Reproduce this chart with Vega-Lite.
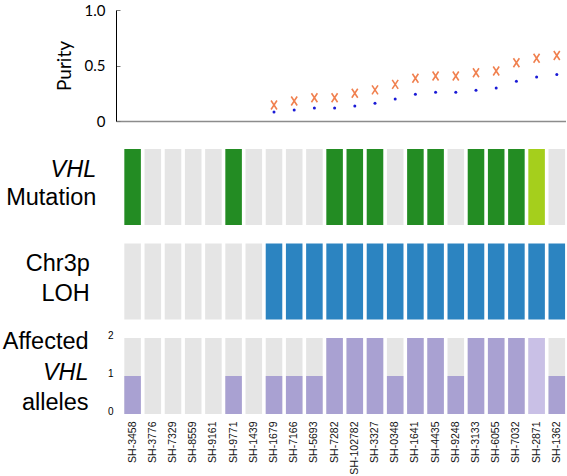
{
  "$schema": "https://vega.github.io/schema/vega-lite/v6.json",
  "background": "white",
  "padding": {"left": 2, "top": 3, "right": 0, "bottom": 0},
  "config": {"view": {"stroke": null}},
  "datasets": {
    "samples": [
      {"sample": "SH-3458", "mutation": "mutant", "loh": "none", "alleles": 1, "allele_shade": "standard", "purity_x": null, "purity_dot": null},
      {"sample": "SH-3776", "mutation": "none", "loh": "none", "alleles": 0, "allele_shade": "standard", "purity_x": null, "purity_dot": null},
      {"sample": "SH-7329", "mutation": "none", "loh": "none", "alleles": 0, "allele_shade": "standard", "purity_x": null, "purity_dot": null},
      {"sample": "SH-8559", "mutation": "none", "loh": "none", "alleles": 0, "allele_shade": "standard", "purity_x": null, "purity_dot": null},
      {"sample": "SH-9161", "mutation": "none", "loh": "none", "alleles": 0, "allele_shade": "standard", "purity_x": null, "purity_dot": null},
      {"sample": "SH-9771", "mutation": "mutant", "loh": "none", "alleles": 1, "allele_shade": "standard", "purity_x": null, "purity_dot": null},
      {"sample": "SH-1439", "mutation": "none", "loh": "none", "alleles": 0, "allele_shade": "standard", "purity_x": null, "purity_dot": null},
      {"sample": "SH-1679", "mutation": "none", "loh": "loh", "alleles": 1, "allele_shade": "standard", "purity_x": 0.144, "purity_dot": 0.081},
      {"sample": "SH-7166", "mutation": "none", "loh": "loh", "alleles": 1, "allele_shade": "standard", "purity_x": 0.18, "purity_dot": 0.099},
      {"sample": "SH-5693", "mutation": "none", "loh": "loh", "alleles": 1, "allele_shade": "standard", "purity_x": 0.21, "purity_dot": 0.117},
      {"sample": "SH-7282", "mutation": "mutant", "loh": "loh", "alleles": 2, "allele_shade": "standard", "purity_x": 0.21, "purity_dot": 0.117},
      {"sample": "SH-102782", "mutation": "mutant", "loh": "loh", "alleles": 2, "allele_shade": "standard", "purity_x": 0.25, "purity_dot": 0.135},
      {"sample": "SH-3327", "mutation": "mutant", "loh": "loh", "alleles": 2, "allele_shade": "standard", "purity_x": 0.28, "purity_dot": 0.159},
      {"sample": "SH-0348", "mutation": "none", "loh": "loh", "alleles": 1, "allele_shade": "standard", "purity_x": 0.33, "purity_dot": 0.198},
      {"sample": "SH-1641", "mutation": "mutant", "loh": "loh", "alleles": 2, "allele_shade": "standard", "purity_x": 0.385, "purity_dot": 0.24},
      {"sample": "SH-4435", "mutation": "mutant", "loh": "loh", "alleles": 2, "allele_shade": "standard", "purity_x": 0.405, "purity_dot": 0.258},
      {"sample": "SH-9248", "mutation": "none", "loh": "loh", "alleles": 1, "allele_shade": "standard", "purity_x": 0.405, "purity_dot": 0.258},
      {"sample": "SH-3133", "mutation": "mutant", "loh": "loh", "alleles": 2, "allele_shade": "standard", "purity_x": 0.435, "purity_dot": 0.276},
      {"sample": "SH-6055", "mutation": "mutant", "loh": "loh", "alleles": 2, "allele_shade": "standard", "purity_x": 0.45, "purity_dot": 0.297},
      {"sample": "SH-7032", "mutation": "mutant", "loh": "loh", "alleles": 2, "allele_shade": "standard", "purity_x": 0.525, "purity_dot": 0.357},
      {"sample": "SH-2871", "mutation": "other", "loh": "loh", "alleles": 2, "allele_shade": "light", "purity_x": 0.565, "purity_dot": 0.396},
      {"sample": "SH-1362", "mutation": "none", "loh": "loh", "alleles": 1, "allele_shade": "standard", "purity_x": 0.59, "purity_dot": 0.42}
    ],
    "labels": [
      {"row": "mutation", "line": 0, "label": "VHL", "italic": true},
      {"row": "mutation", "line": 1, "label": "Mutation", "italic": false},
      {"row": "loh", "line": 0, "label": "Chr3p", "italic": false},
      {"row": "loh", "line": 1, "label": "LOH", "italic": false},
      {"row": "alleles", "line": 0, "label": "Affected", "italic": false},
      {"row": "alleles", "line": 1, "label": "VHL", "italic": true},
      {"row": "alleles", "line": 2, "label": "alleles", "italic": false}
    ]
  },
  "data": {"name": "samples"},
  "spacing": 28,
  "bounds": "flush",
  "resolve": {"scale": {"x": "independent", "y": "independent", "color": "independent"}},
  "vconcat": [
    {
      "width": 450,
      "height": 111,
      "layer": [
        {
          "mark": {"type": "point", "shape": "M-0.66,-1L0.66,1M0.66,-1L-0.66,1", "filled": false, "strokeWidth": 1.6, "size": 81, "color": "#f0804f", "opacity": 1},
          "encoding": {
            "x": {"field": "sample", "type": "nominal", "sort": null,
              "scale": {"type": "band", "domain": ["SH-3458","SH-3776","SH-7329","SH-8559","SH-9161","SH-9771","SH-1439","SH-1679","SH-7166","SH-5693","SH-7282","SH-102782","SH-3327","SH-0348","SH-1641","SH-4435","SH-9248","SH-3133","SH-6055","SH-7032","SH-2871","SH-1362"], "paddingInner": 0.18, "paddingOuter": 0.229, "align": 0.9},
              "axis": {"labels": false, "ticks": false, "title": null, "grid": false, "domainColor": "#8c8c8c", "domainWidth": 1.5}},
            "y": {"field": "purity_x", "type": "quantitative", "scale": {"domain": [0, 1]},
              "axis": {"values": [0, 0.5, 1], "labelExpr": "datum.value == 0 ? '0' : format(datum.value, '.1f')", "grid": false, "domainColor": "#000000", "domainWidth": 1, "tickColor": "#777777", "tickSize": -4, "labelFont": "Lato", "labelFontSize": 15, "labelColor": "#000000", "labelPadding": 15, "title": "Purity", "titleFont": "Lato", "titleFontSize": 19, "titleFontWeight": "normal", "titleColor": "#000000", "titlePadding": 10}}
          }
        },
        {
          "mark": {"type": "point", "shape": "circle", "filled": true, "size": 9, "color": "#1a1ad6", "opacity": 1},
          "encoding": {
            "x": {"field": "sample", "type": "nominal", "sort": null},
            "y": {"field": "purity_dot", "type": "quantitative"}
          }
        }
      ]
    },
    {
      "spacing": 18.5,
      "bounds": "flush",
      "resolve": {"scale": {"x": "independent", "y": "independent", "color": "independent"}},
      "vconcat": [
        {
          "width": 450,
          "height": 76,
          "resolve": {"scale": {"x": "independent", "y": "independent"}, "axis": {"x": "independent", "y": "independent"}},
          "layer": [
            {
              "mark": {"type": "rect"},
              "encoding": {
                "x": {"field": "sample", "type": "nominal", "sort": null,
                  "scale": {"type": "band", "domain": ["SH-3458","SH-3776","SH-7329","SH-8559","SH-9161","SH-9771","SH-1439","SH-1679","SH-7166","SH-5693","SH-7282","SH-102782","SH-3327","SH-0348","SH-1641","SH-4435","SH-9248","SH-3133","SH-6055","SH-7032","SH-2871","SH-1362"], "paddingInner": 0.18, "paddingOuter": 0.229, "align": 0.9},
                  "axis": null},
                "color": {"field": "mutation", "type": "nominal", "scale": {"domain": ["none", "mutant", "other"], "range": ["#e5e5e5", "#238c23", "#a5cf1c"]}, "legend": null}
              }
            },
            {
              "data": {"name": "labels"},
              "transform": [{"filter": "datum.row == 'mutation' && datum.italic"}],
              "mark": {"type": "text", "align": "right", "baseline": "alphabetic", "font": "Liberation Sans", "fontSize": 23.5, "fontStyle": "italic", "color": "#000000"},
              "encoding": {
                "text": {"field": "label", "type": "nominal"},
                "x": {"datum": -0.0438, "type": "quantitative", "scale": {"domain": [0, 1]}, "axis": null},
                "y": {"datum": 0.638, "type": "quantitative", "scale": {"domain": [0, 1]}, "axis": null}
              }
            },
            {
              "data": {"name": "labels"},
              "transform": [{"filter": "datum.row == 'mutation' && !datum.italic"}],
              "mark": {"type": "text", "align": "right", "baseline": "alphabetic", "font": "Liberation Sans", "fontSize": 23.5, "color": "#000000"},
              "encoding": {
                "text": {"field": "label", "type": "nominal"},
                "x": {"datum": -0.0438, "type": "quantitative", "scale": {"domain": [0, 1]}, "axis": null},
                "y": {"datum": 0.257, "type": "quantitative", "scale": {"domain": [0, 1]}, "axis": null}
              }
            }
          ]
        },
        {
          "width": 450,
          "height": 76,
          "resolve": {"scale": {"x": "independent", "y": "independent"}, "axis": {"x": "independent", "y": "independent"}},
          "layer": [
            {
              "mark": {"type": "rect"},
              "encoding": {
                "x": {"field": "sample", "type": "nominal", "sort": null,
                  "scale": {"type": "band", "domain": ["SH-3458","SH-3776","SH-7329","SH-8559","SH-9161","SH-9771","SH-1439","SH-1679","SH-7166","SH-5693","SH-7282","SH-102782","SH-3327","SH-0348","SH-1641","SH-4435","SH-9248","SH-3133","SH-6055","SH-7032","SH-2871","SH-1362"], "paddingInner": 0.18, "paddingOuter": 0.229, "align": 0.9},
                  "axis": null},
                "color": {"field": "loh", "type": "nominal", "scale": {"domain": ["none", "loh"], "range": ["#e5e5e5", "#2c84c1"]}, "legend": null}
              }
            },
            {
              "data": {"name": "labels"},
              "transform": [{"filter": "datum.row == 'loh' && datum.line == 0"}],
              "mark": {"type": "text", "align": "right", "baseline": "alphabetic", "font": "Liberation Sans", "fontSize": 23.5, "color": "#000000"},
              "encoding": {
                "text": {"field": "label", "type": "nominal"},
                "x": {"datum": -0.0582, "type": "quantitative", "scale": {"domain": [0, 1]}, "axis": null},
                "y": {"datum": 0.636, "type": "quantitative", "scale": {"domain": [0, 1]}, "axis": null}
              }
            },
            {
              "data": {"name": "labels"},
              "transform": [{"filter": "datum.row == 'loh' && datum.line == 1"}],
              "mark": {"type": "text", "align": "right", "baseline": "alphabetic", "font": "Liberation Sans", "fontSize": 23.5, "color": "#000000"},
              "encoding": {
                "text": {"field": "label", "type": "nominal"},
                "x": {"datum": -0.0582, "type": "quantitative", "scale": {"domain": [0, 1]}, "axis": null},
                "y": {"datum": 0.241, "type": "quantitative", "scale": {"domain": [0, 1]}, "axis": null}
              }
            }
          ]
        },
        {
          "width": 450,
          "height": 76,
          "resolve": {"scale": {"x": "independent", "y": "independent"}, "axis": {"x": "independent", "y": "independent"}},
          "layer": [
            {
              "mark": {"type": "rect", "color": "#e5e5e5"},
              "encoding": {
                "x": {"field": "sample", "type": "nominal", "sort": null,
                  "scale": {"type": "band", "domain": ["SH-3458","SH-3776","SH-7329","SH-8559","SH-9161","SH-9771","SH-1439","SH-1679","SH-7166","SH-5693","SH-7282","SH-102782","SH-3327","SH-0348","SH-1641","SH-4435","SH-9248","SH-3133","SH-6055","SH-7032","SH-2871","SH-1362"], "paddingInner": 0.18, "paddingOuter": 0.229, "align": 0.9},
                  "axis": {"orient": "bottom", "labelAngle": -90, "domain": false, "ticks": false, "grid": false, "labelPadding": 7, "labelFont": "Liberation Sans", "labelFontSize": 10.5, "labelColor": "#111111", "title": null}}
              }
            },
            {
              "mark": {"type": "bar"},
              "encoding": {
                "x": {"field": "sample", "type": "nominal", "sort": null,
                  "scale": {"type": "band", "domain": ["SH-3458","SH-3776","SH-7329","SH-8559","SH-9161","SH-9771","SH-1439","SH-1679","SH-7166","SH-5693","SH-7282","SH-102782","SH-3327","SH-0348","SH-1641","SH-4435","SH-9248","SH-3133","SH-6055","SH-7032","SH-2871","SH-1362"], "paddingInner": 0.18, "paddingOuter": 0.229, "align": 0.9},
                  "axis": null},
                "y": {"field": "alleles", "type": "quantitative", "scale": {"domain": [0, 2]},
                  "axis": {"values": [0, 1, 2], "labelExpr": "format(datum.value, 'd')", "domain": false, "ticks": false, "grid": false, "labelOverlap": false, "labelFont": "Liberation Sans", "labelFontSize": 10, "labelColor": "#000000", "labelPadding": 3, "labelOffset": -3, "title": null}},
                "color": {"field": "allele_shade", "type": "nominal", "scale": {"domain": ["standard", "light"], "range": ["#a9a1d2", "#c9c0e6"]}, "legend": null}
              }
            },
            {
              "data": {"name": "labels"},
              "transform": [{"filter": "datum.row == 'alleles' && !datum.italic"}],
              "mark": {"type": "text", "align": "right", "baseline": "alphabetic", "font": "Liberation Sans", "fontSize": 23.5, "color": "#000000"},
              "encoding": {
                "text": {"field": "label", "type": "nominal"},
                "x": {"datum": -0.0609, "type": "quantitative", "scale": {"domain": [0, 1]}, "axis": null},
                "y": {"field": "line", "type": "quantitative", "scale": {"domain": [-0.37, 2.122], "reverse": true}, "axis": null}
              }
            },
            {
              "data": {"name": "labels"},
              "transform": [{"filter": "datum.row == 'alleles' && datum.italic"}],
              "mark": {"type": "text", "align": "right", "baseline": "alphabetic", "font": "Liberation Sans", "fontSize": 23.5, "fontStyle": "italic", "color": "#000000"},
              "encoding": {
                "text": {"field": "label", "type": "nominal"},
                "x": {"datum": -0.0609, "type": "quantitative", "scale": {"domain": [0, 1]}, "axis": null},
                "y": {"field": "line", "type": "quantitative", "scale": {"domain": [-0.37, 2.122], "reverse": true}, "axis": null}
              }
            }
          ]
        }
      ]
    }
  ]
}
